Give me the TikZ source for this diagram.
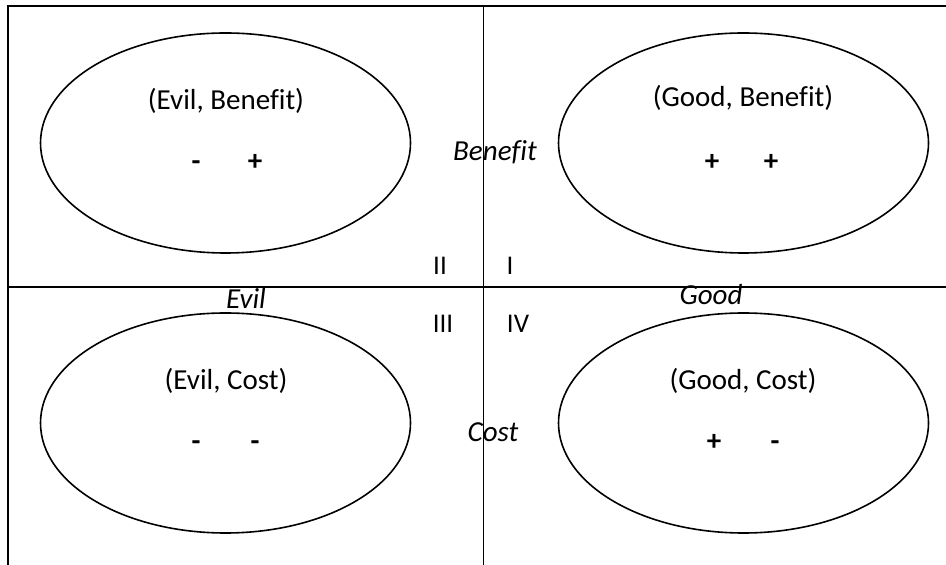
\documentclass[tikz,border=0pt]{standalone}
\usepackage{fontspec}
\setmainfont[Ligatures=NoCommon]{Carlito}
\usetikzlibrary{shapes.geometric}

\begin{document}
\begin{tikzpicture}[x=0.5pt, y=-0.5pt,
      oval/.style={draw, ellipse, line width=0.8pt, minimum width=185pt, minimum height=110pt, inner sep=0pt},
      pair/.style={font=\fontsize{14.5}{17}\selectfont},
      sign/.style={font=\fontsize{14.5}{17}\selectfont\bfseries, text height=1.6ex, text depth=0.2ex},
      axis/.style={font=\fontsize{14.5}{17}\selectfont\itshape},
      quad/.style={font=\fontsize{13.5}{16}\selectfont}]

    \useasboundingbox (0,0) rectangle (946,565);

    % frame and axes
    \draw[line width=1pt] (946,6) -- (8,6) -- (8,565);
    \draw[line width=0.7pt] (8,287) -- (946,287);
    \draw[line width=0.5pt] (483,6) -- (483,565);

    % the four quadrants
    \node[oval] (evilben) at (225.5,143) {};
    \node[oval] (goodben) at (743.5,143) {};
    \node[oval] (evilcost) at (225.5,423) {};
    \node[oval] (goodcost) at (743.5,423) {};

    \node[pair] (evilbenlbl) at (226,101) {(Evil, Benefit)};
    \node[sign] (eb1) at (196,164) {-};
    \node[sign] (eb2) at (255,164) {+};

    \node[pair] (goodbenlbl) at (743,98) {(Good, Benefit)};
    \node[sign] (gb1) at (712,164) {+};
    \node[sign] (gb2) at (771,164) {+};

    \node[pair] (evilcostlbl) at (226,381) {(Evil, Cost)};
    \node[sign] (ec1) at (196,444) {-};
    \node[sign] (ec2) at (255,444) {-};

    \node[pair] (goodcostlbl) at (743,381) {(Good, Cost)};
    \node[sign] (gc1) at (714,444) {+};
    \node[sign] (gc2) at (775,444) {-};

    % axis names
    \node[axis] (benefit) at (495,152) {Benefit};
    \node[axis] (cost) at (493,432) {Cost};
    \node[axis] (evil) at (246,298) {Evil};
    \node[axis] (good) at (711,295) {Good};

    % quadrant numbers
    \node[quad] (q2) at (440,266) {II};
    \node[quad] (q1) at (510,266) {I};
    \node[quad] (q3) at (443,324) {III};
    \node[quad] (q4) at (518,324) {IV};
  \end{tikzpicture}
\end{document}
